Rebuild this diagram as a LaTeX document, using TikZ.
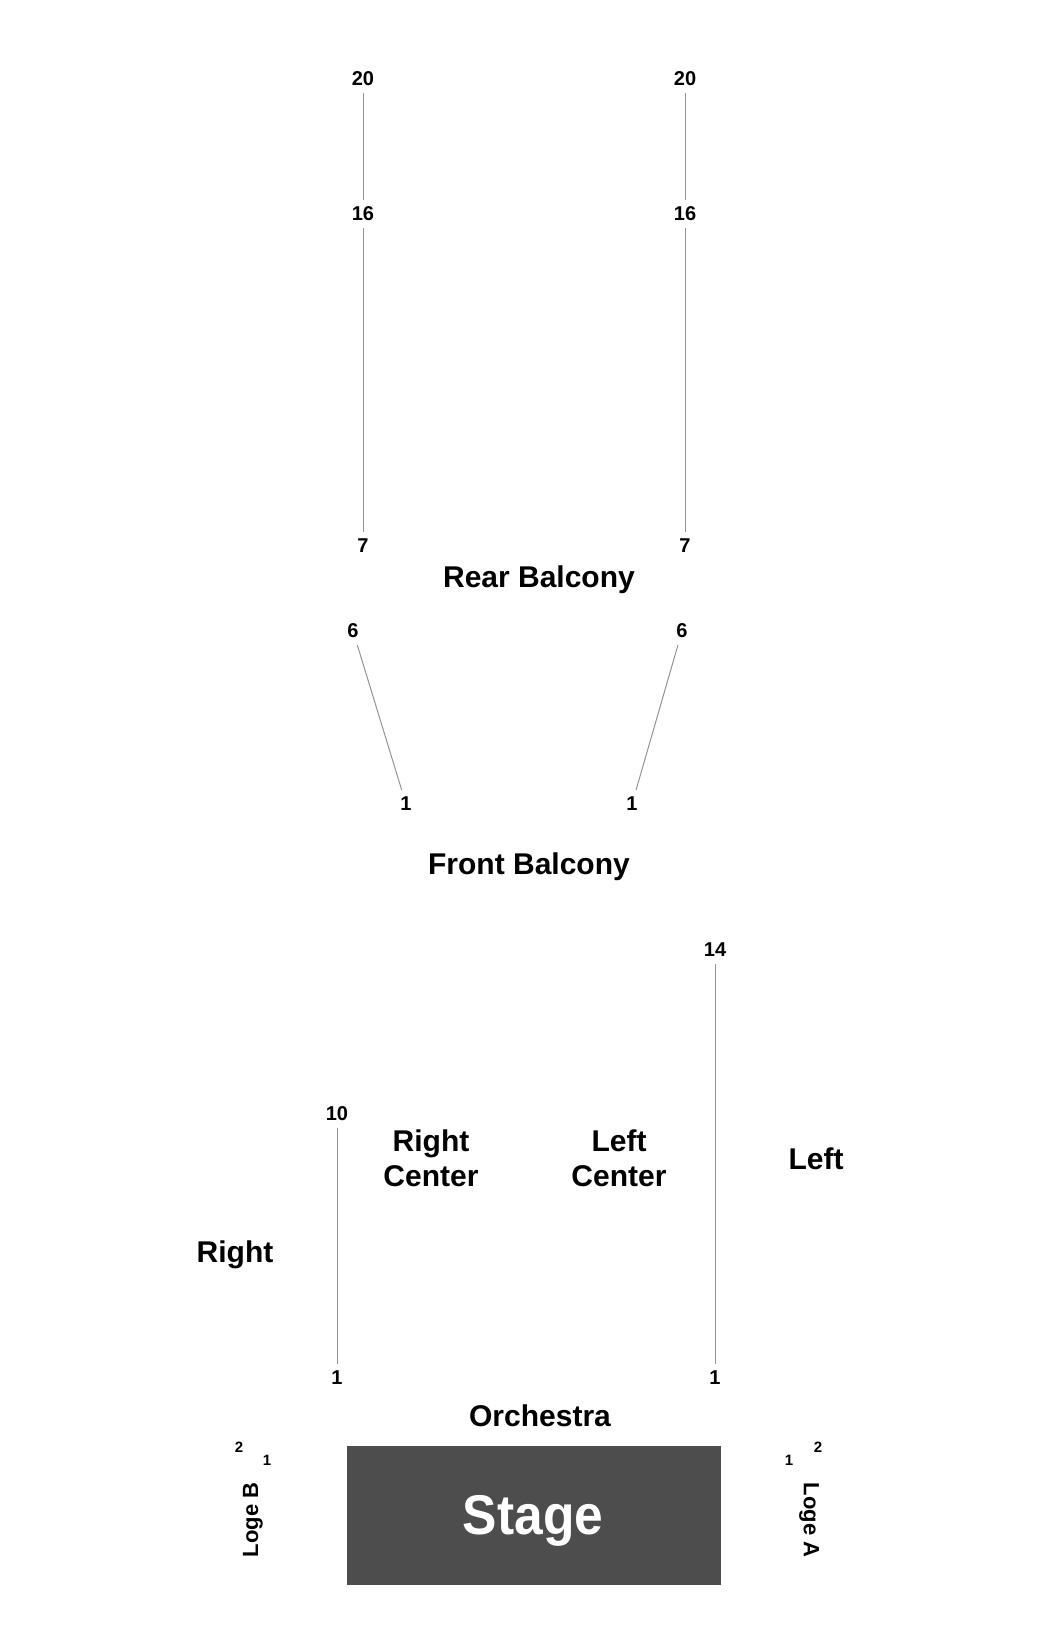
\documentclass[tikz,border=0pt]{standalone}
\usepackage{fontspec}
\setmainfont{Liberation Sans}
\usepackage{xcolor}
\usepackage{tikz}
\definecolor{stagegray}{HTML}{4D4D4D}
\tikzstyle{rownum} = [font=\bfseries\fontsize{10}{12}\selectfont, text=black]
\tikzstyle{logenum} = [font=\bfseries\fontsize{7.5}{9}\selectfont, text=black, inner sep=1pt]
\tikzstyle{section} = [font=\bfseries\fontsize{15}{17.5}\selectfont, text=black, align=center]
\tikzstyle{stagebox} = [rectangle, fill=stagegray, draw=none]
\tikzstyle{rowline} = [draw=gray!85, line width=0.5pt]

\begin{document}
\begin{tikzpicture}[x=0.5pt, y=-0.5pt]

	\useasboundingbox (0,0) rectangle (1050,1640);

	% rear balcony
	\node (rbl20) [rownum] at (363,79) {20};
	\node (rbl16) [rownum] at (363,214) {16};
	\node (rbl7) [rownum] at (363,546) {7};
	\node (rbr20) [rownum] at (685,79) {20};
	\node (rbr16) [rownum] at (685,214) {16};
	\node (rbr7) [rownum] at (685,546) {7};
	\node (rear) [section] at (539,580) {Rear Balcony};

	\draw [rowline] (rbl20) -- (rbl16);
	\draw [rowline] (rbl16) -- (rbl7);
	\draw [rowline] (rbr20) -- (rbr16);
	\draw [rowline] (rbr16) -- (rbr7);

	% front balcony
	\node (fbl6) [rownum] at (353,631) {6};
	\node (fbl1) [rownum] at (406,804) {1};
	\node (fbr6) [rownum] at (682,631) {6};
	\node (fbr1) [rownum] at (632,804) {1};
	\node (front) [section] at (529,867) {Front Balcony};

	\draw [rowline] (fbl6) -- (fbl1);
	\draw [rowline] (fbr6) -- (fbr1);

	% orchestra
	\node (orr10) [rownum] at (337,1114) {10};
	\node (orr1) [rownum] at (337,1378) {1};
	\node (orl14) [rownum] at (715,950) {14};
	\node (orl1) [rownum] at (715,1378) {1};
	\node (right) [section] at (235,1255) {Right};
	\node (rcenter) [section] at (431,1158) {Right\\Center};
	\node (lcenter) [section] at (619,1158) {Left\\Center};
	\node (left) [section] at (816,1159) {Left};
	\node (orch) [section] at (540,1416) {Orchestra};

	\draw [rowline] (orr10) -- (orr1);
	\draw [rowline] (orl14) -- (orl1);

	% stage and loges
	\node (stage) [stagebox, minimum width=187pt, minimum height=69.5pt] at (534,1515.5) {};
	\node [font=\bfseries\fontsize{28}{32}\selectfont, text=white, xscale=0.92] at (533,1521) {Stage};

	\node (lb2) [logenum] at (239,1447) {2};
	\node (lb1) [logenum] at (267,1460) {1};
	\node (logeb) [section, font=\bfseries\fontsize{11}{13}\selectfont, rotate=90] at (253,1520) {Loge B};
	\node (la1) [logenum] at (789,1460) {1};
	\node (la2) [logenum] at (818,1447) {2};
	\node (logea) [section, font=\bfseries\fontsize{11}{13}\selectfont, rotate=-90] at (809,1520) {Loge A};

\end{tikzpicture}
\end{document}
